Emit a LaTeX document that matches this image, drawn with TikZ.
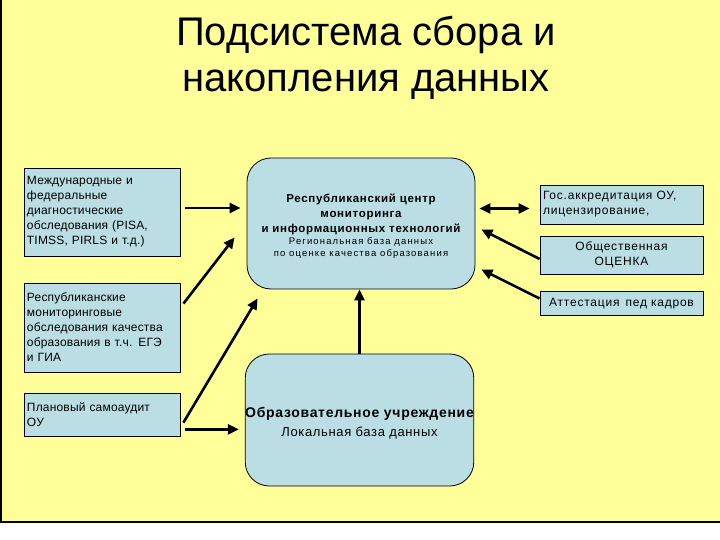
\documentclass[tikz,border=0pt]{standalone}
\usepackage{fontspec}
\setmainfont{Liberation Sans}
\usetikzlibrary{calc,arrows.meta}
\definecolor{bgyellow}{RGB}{255,255,153}
\definecolor{boxblue}{RGB}{186,222,228}
\newcommand{\lsp}[1]{\addfontfeatures{LetterSpace=#1}}
\newcommand{\bigb}{\bfseries\fontsize{11.5}{14}\selectfont\lsp{6}}
\newcommand{\smallr}{\fontsize{9.5}{11.5}\selectfont\lsp{12}}
\begin{document}
\begin{tikzpicture}[x=1pt,y=-1pt,
  box/.style={draw=black, fill=boxblue, line width=0.8pt, inner sep=3pt},
  lbox/.style={box, minimum width=156pt, text width=150pt, align=left, font=\fontsize{12}{15}\selectfont\lsp{1.5}},
  rbox/.style={box, minimum width=163pt, text width=157pt, font=\fontsize{12}{15}\selectfont\lsp{6.5}},
  cbox/.style={draw=black, fill=boxblue, line width=0.8pt, rounded corners=24pt, inner sep=0pt, align=center},
  arr/.style={line width=2.6pt, -{Triangle[length=11pt,width=10pt]}},
  darr/.style={line width=2.6pt, {Triangle[length=11pt,width=10pt]}-{Triangle[length=11pt,width=10pt]}},
]
\useasboundingbox (0,0) rectangle (720,540);
\fill[white] (0,0) rectangle (720,540);
\fill[bgyellow] (0,0) rectangle (720,522);
\draw[line width=1.5pt] (0.75,0) -- (0.75,522) -- (720,522);

\node[align=center, font=\fontsize{40}{46}\selectfont] (title) at (366,58)
  {Подсистема сбора и\\накопления данных};

\node[lbox, minimum height=88pt] (b1) at (102,212)
  {Международные и\\федеральные\\диагностические\\обследования (PISA,\\TIMSS, PIRLS и т.д.)};
\node[lbox, minimum height=89pt] (b2) at (102,327.5)
  {Республиканские\\мониторинговые\\обследования качества\\образования в т.ч. ЕГЭ\\и ГИА};
\node[lbox, minimum height=43pt] (b3) at (102,414.5)
  {Плановый самоаудит\\ОУ};

\node[cbox, minimum width=228pt, minimum height=131pt] (ctop) at (361,223.5)
  {\bigb\rule{0pt}{14pt}Республиканский центр\\[3.5pt]\bigb мониторинга\\[2.5pt]\bigb и информационных технологий\\[0.5pt]
   \smallr Региональная база данных\\\smallr по оценке качества образования};
\node[cbox, minimum width=227pt, minimum height=132pt] (cbot) at (359.5,420)
  {\bfseries\fontsize{14}{18}\selectfont\lsp{5}\rule{0pt}{17pt}Образовательное учреждение\\[5pt]
   \fontsize{13}{18}\selectfont\lsp{5} Локальная база данных};

\node[rbox, align=left, minimum height=39pt] (r1) at (621.5,204.5)
  {Гос.аккредитация ОУ,\\лицензирование,};
\node[rbox, align=center, minimum height=38pt] (r2) at (621.5,255)
  {Общественная\\ОЦЕНКА};
\node[rbox, align=center, minimum height=24pt] (r3) at (621.5,303.5)
  {Аттестация\, пед кадров};

\coordinate (a1s) at ($(b1.east)+(5,-4)$);
\draw[arr, shorten >=6pt] (a1s) -- (a1s -| ctop.west);
\draw[arr] ($(b2.north east)+(3,21)$) -- ($(ctop.south west)+(-12,-52)$);
\draw[arr] ($(b3.north east)+(3,30)$) -- ($(ctop.south west)+(11,9)$);
\coordinate (a4s) at ($(b3.south east)+(5,-7)$);
\draw[arr, shorten >=6pt] (a4s) -- (a4s -| cbot.west);
\draw[arr] (cbot.north) -- (cbot.north |- ctop.south);
\coordinate (a5s) at ($(r1.west)+(-10,4)$);
\draw[darr] (a5s) -- ($(a5s -| ctop.east)+(4,0)$);
\draw[arr] ($(r2.west)+(0,4)$) -- ($(ctop.east)+(6,6)$);
\draw[arr] ($(r3.west)+(0,-5)$) -- ($(ctop.east)+(6,46)$);
\end{tikzpicture}
\end{document}
